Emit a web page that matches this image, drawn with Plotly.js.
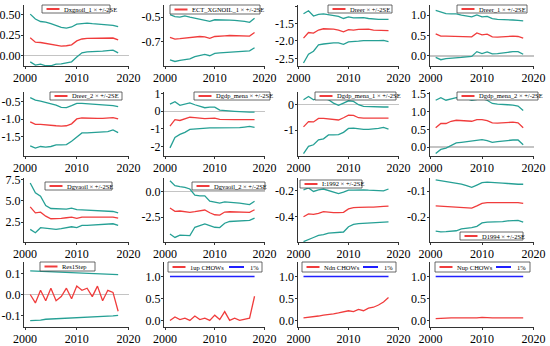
<!DOCTYPE html>
<html><head><meta charset="utf-8">
<script src="https://cdn.plot.ly/plotly-3.0.1.min.js"></script>
<style>html,body{margin:0;padding:0;background:#fff;} #chart{width:550px;height:346px;}</style>
</head><body><div id="chart"></div>
<script>
// ---------------- DATA ----------------
const years = [2001,2002,2003,2004,2005,2006,2007,2008,2009,2010,2011,2012,2013,2014,2015,2016,2017,2018];

const dxgnoilHi  = [0.508,0.448,0.417,0.41,0.39,0.37,0.345,0.337,0.35,0.385,0.39,0.397,0.39,0.385,0.377,0.377,0.37,0.353];
const dxgnoilFit = [0.218,0.163,0.159,0.147,0.131,0.119,0.115,0.119,0.131,0.179,0.202,0.21,0.21,0.21,0.206,0.21,0.214,0.19];
const dxgnoilLo  = [-0.079,-0.119,-0.107,-0.127,-0.127,-0.107,-0.103,-0.091,-0.079,-0.02,0.032,0.044,0.044,0.048,0.052,0.06,0.064,0.032];

const ectHi  = [-0.479,-0.495,-0.5,-0.489,-0.5,-0.508,-0.516,-0.521,-0.534,-0.521,-0.524,-0.526,-0.524,-0.526,-0.529,-0.534,-0.542,-0.508];
const ectFit = [-0.666,-0.679,-0.676,-0.671,-0.666,-0.661,-0.658,-0.661,-0.674,-0.658,-0.658,-0.653,-0.65,-0.65,-0.65,-0.653,-0.655,-0.626];
const ectLo  = [-0.85,-0.863,-0.853,-0.845,-0.842,-0.824,-0.816,-0.805,-0.816,-0.797,-0.792,-0.789,-0.784,-0.782,-0.779,-0.779,-0.776,-0.75];

const dreerHi  = [-1.223,-1.134,-1.286,-1.241,-1.223,-1.241,-1.268,-1.295,-1.357,-1.313,-1.339,-1.33,-1.33,-1.357,-1.375,-1.384,-1.384,-1.384];
const dreerFit = [-1.92,-1.759,-1.777,-1.688,-1.652,-1.652,-1.661,-1.688,-1.741,-1.679,-1.688,-1.67,-1.661,-1.661,-1.688,-1.688,-1.688,-1.705];
const dreerLo  = [-2.634,-2.384,-2.295,-2.116,-2.089,-2.063,-2.054,-2.054,-2.098,-2.027,-2.027,-2.009,-1.991,-1.982,-1.991,-1.991,-1.982,-2.018];

const dreer1Hi  = [1.119,1.071,1.04,1.032,1.032,1.0,0.976,0.96,1.008,0.96,0.968,0.913,0.897,0.897,0.889,0.881,0.873,0.857];
const dreer1Fit = [0.54,0.484,0.484,0.484,0.484,0.476,0.476,0.468,0.563,0.516,0.532,0.468,0.46,0.468,0.484,0.484,0.476,0.437];
const dreer1Lo  = [-0.04,-0.095,-0.071,-0.063,-0.063,-0.04,-0.024,-0.016,0.103,0.056,0.095,0.048,0.056,0.063,0.087,0.103,0.103,0.04];

const dreer2Hi  = [-0.38,-0.454,-0.481,-0.519,-0.546,-0.593,-0.657,-0.667,-0.611,-0.546,-0.546,-0.556,-0.574,-0.583,-0.593,-0.593,-0.611,-0.639];
const dreer2Fit = [-1.074,-1.148,-1.148,-1.167,-1.167,-1.185,-1.194,-1.185,-1.13,-0.991,-0.963,-0.972,-0.972,-0.972,-0.972,-0.963,-0.954,-0.991];
const dreer2Lo  = [-1.759,-1.824,-1.778,-1.796,-1.778,-1.731,-1.731,-1.722,-1.63,-1.5,-1.389,-1.389,-1.38,-1.38,-1.37,-1.352,-1.306,-1.38];

const menaHi  = [0.407,0.542,0.339,0.407,0.475,0.373,0.288,0.203,0.237,0.237,0.068,0.034,0,0,-0.017,-0.051,-0.051,-0.051];
const menaFit = [-0.847,-0.475,-0.525,-0.441,-0.339,-0.356,-0.39,-0.424,-0.407,-0.39,-0.458,-0.475,-0.475,-0.475,-0.475,-0.475,-0.475,-0.475];
const menaLo  = [-2.085,-1.49,-1.32,-1.2,-1.03,-1.0,-0.983,-0.966,-0.949,-0.949,-0.949,-0.949,-0.949,-0.932,-0.932,-0.898,-0.864,-0.915];

const mena1Hi  = [0.192,0.32,0.192,0.256,0.282,0.192,0.064,-0.026,0.064,0.154,0.128,0,-0.064,-0.077,-0.077,-0.077,-0.09,-0.09];
const mena1Fit = [-0.872,-0.667,-0.679,-0.538,-0.538,-0.551,-0.577,-0.603,-0.513,-0.41,-0.423,-0.513,-0.526,-0.526,-0.513,-0.513,-0.5,-0.526];
const mena1Lo  = [-1.923,-1.641,-1.577,-1.385,-1.346,-1.192,-1.192,-1.179,-1.09,-0.936,-0.923,-0.962,-0.974,-0.974,-0.962,-0.936,-0.897,-0.962];

const mena2Hi  = [1.318,1.391,1.318,1.364,1.391,1.382,1.364,1.318,1.336,1.364,1.318,1.227,1.209,1.209,1.191,1.182,1.155,1.027];
const mena2Fit = [0.545,0.664,0.664,0.727,0.755,0.745,0.736,0.727,0.773,0.773,0.745,0.682,0.673,0.682,0.7,0.7,0.682,0.545];
const mena2Lo  = [-0.182,-0.064,-0.027,0.045,0.118,0.136,0.155,0.173,0.209,0.209,0.182,0.136,0.155,0.173,0.182,0.2,0.2,0.064];

const gvaHi  = [7.11,5.94,5.55,4.45,4.1,4.06,3.98,4.02,4.14,3.98,3.95,3.91,3.83,3.79,3.79,3.79,3.75,3.59];
const gvaFit = [4.3,3.59,3.67,3.2,2.89,2.89,2.93,3.01,3.09,2.93,3.09,3.09,3.09,3.09,3.13,3.13,3.09,2.97];
const gvaLo  = [1.64,1.25,1.84,1.76,1.64,1.64,1.72,1.8,1.95,1.84,2.11,2.11,2.15,2.19,2.23,2.27,2.3,2.11];

const gva2Hi  = [1.07,0.6,0.5,0.43,0.27,-0.33,-0.4,-0.4,-0.93,-1.0,-1.13,-1.0,-1.03,-1.07,-1.13,-1.2,-1.27,-0.93];
const gva2Fit = [-1.6,-1.93,-1.9,-1.93,-2.03,-1.97,-1.87,-1.8,-2.07,-2.27,-2.3,-2.0,-1.97,-1.97,-2.0,-2.03,-2.03,-1.77];
const gva2Lo  = [-4.17,-4.5,-4.27,-4.27,-4.33,-3.5,-3.33,-3.17,-3.33,-3.5,-3.53,-3.1,-2.93,-2.9,-2.9,-2.9,-2.83,-2.6];

const i1992Hi  = [-0.192,-0.178,-0.205,-0.192,-0.186,-0.197,-0.214,-0.222,-0.211,-0.195,-0.195,-0.192,-0.192,-0.195,-0.197,-0.2,-0.2,-0.186];
const i1992Fit = [-0.403,-0.381,-0.384,-0.376,-0.362,-0.368,-0.37,-0.37,-0.368,-0.341,-0.332,-0.33,-0.327,-0.327,-0.327,-0.327,-0.322,-0.319];
const i1992Lo  = [-0.597,-0.578,-0.565,-0.549,-0.543,-0.53,-0.527,-0.524,-0.522,-0.481,-0.462,-0.457,-0.454,-0.451,-0.451,-0.449,-0.446,-0.443];

const d1994Hi  = [-0.057,-0.06,-0.064,-0.068,-0.069,-0.073,-0.079,-0.086,-0.077,-0.068,-0.066,-0.068,-0.069,-0.07,-0.071,-0.073,-0.074,-0.074];
const d1994Fit = [-0.157,-0.158,-0.16,-0.161,-0.162,-0.164,-0.165,-0.165,-0.157,-0.147,-0.144,-0.144,-0.144,-0.144,-0.144,-0.144,-0.144,-0.147];
const d1994Lo  = [-0.253,-0.256,-0.255,-0.253,-0.252,-0.245,-0.243,-0.24,-0.235,-0.222,-0.219,-0.219,-0.218,-0.217,-0.214,-0.213,-0.212,-0.219];

const resHi  = [0.113,0.112,0.111,0.108,0.107,0.106,0.105,0.104,0.104,0.102,0.101,0.1,0.1,0.099,0.098,0.097,0.097,0.095];
const resFit = [0.0,-0.04,0.02,-0.03,0.03,-0.03,-0.01,0.03,-0.02,0.04,0.02,0.03,-0.01,0.04,-0.03,0.02,0.01,-0.08];
const resLo  = [-0.125,-0.124,-0.122,-0.118,-0.117,-0.116,-0.114,-0.113,-0.112,-0.11,-0.109,-0.108,-0.107,-0.106,-0.104,-0.103,-0.102,-0.1];

const chow1up = [0.0,0.08,0.02,0.05,0.0,0.1,0.02,0.05,0.0,0.12,0.02,0.2,0.0,0.05,0.0,0.02,0.05,0.55];
const chowNdn = [0.06,0.07,0.08,0.1,0.12,0.13,0.15,0.17,0.2,0.22,0.2,0.25,0.22,0.28,0.3,0.35,0.42,0.52];
const chowNup = [0.04,0.05,0.05,0.06,0.06,0.06,0.05,0.06,0.06,0.07,0.06,0.06,0.06,0.06,0.07,0.07,0.06,0.06];
const crit1pc = [1,1,1,1,1,1,1,1,1,1,1,1,1,1,1,1,1,1];

const xTicks = [2000, 2010, 2020];

// ---------------- STYLE / LAYOUT ----------------
const RED = '#f03c3c', TEAL = '#26a095', BLUE = '#2020ff';
const W = 550, H = 346;
const FONT = 'Liberation Serif, Times New Roman, serif';
const colPx = [[24,128.5],[164,264.5],[297.5,398.5],[429.5,533.5]];
const rowPx = [[5,66],[92,156],[178,242],[262,327]];
const px2x = p => p / W, py2y = p => 1 - p / H;

const panels = [
  {kind:'band', label:'Dxgnoil_1 × +/-2SE',   fit:dxgnoilFit, hi:dxgnoilHi, lo:dxgnoilLo, yr:[-0.13,0.62],  tv:[0,0.25,0.5],   dec:2, box:[42,5,110,13],   zero:true},
  {kind:'band', label:'ECT_XGNOIL_1 × +/-2SE', fit:ectFit,    hi:ectHi,    lo:ectLo,    yr:[-0.9,-0.4],   tv:[-0.7,-0.5],    dec:1, box:[170,5,260,14],  zero:true},
  {kind:'band', label:'Dreer × +/-2SE',       fit:dreerFit,   hi:dreerHi,  lo:dreerLo,  yr:[-2.72,-0.97], tv:[-2.5,-2,-1.5,-1], dec:1, box:[328,5,392,13], zero:true},
  {kind:'band', label:'Dreer_1 × +/-2SE',     fit:dreer1Fit,  hi:dreer1Hi, lo:dreer1Lo, yr:[-0.25,1.25],  tv:[0,0.5,1],      dec:1, box:[457,5,527,13],  zero:true},
  {kind:'band', label:'Dreer_2 × +/-2SE',     fit:dreer2Fit,  hi:dreer2Hi, lo:dreer2Lo, yr:[-2.05,-0.22], tv:[-1.5,-1,-0.5], dec:1, box:[50,92,122,100], zero:true},
  {kind:'band', label:'Dgdp_mena × +/-2SE',   fit:menaFit,    hi:menaHi,   lo:menaLo,   yr:[-2.55,1.1],   tv:[-2,-1,0,1],    dec:0, box:[194,92,270,100], zero:true},
  {kind:'band', label:'Dgdp_mena_1 × +/-2SE', fit:mena1Fit,   hi:mena1Hi,  lo:mena1Lo,  yr:[-2.02,0.5],   tv:[-1,0],         dec:0, box:[315,92,396,100], zero:true},
  {kind:'band', label:'Dgdp_mena_2 × +/-2SE', fit:mena2Fit,   hi:mena2Hi,  lo:mena2Lo,  yr:[-0.25,1.55],  tv:[0,0.5,1,1.5],  dec:1, box:[457,92,538,100], zero:true},
  {kind:'band', label:'Dgvaoil × +/-2SE',     fit:gvaFit,     hi:gvaHi,    lo:gvaLo,    yr:[0.15,7.7],    tv:[2.5,5,7.5],    dec:1, box:[45,182,112,190], zero:true},
  {kind:'band', label:'Dgvaoil_2 × +/-2SE',   fit:gva2Fit,    hi:gva2Hi,   lo:gva2Lo,   yr:[-4.95,1.35],  tv:[-2.5,0],       dec:1, box:[192,182,265,190], zero:true},
  {kind:'band', label:'I:1992 × +/-2SE',      fit:i1992Fit,   hi:i1992Hi,  lo:i1992Lo,  yr:[-0.6,-0.1],   tv:[-0.4,-0.2],    dec:1, box:[300,180,362,188], zero:true},
  {kind:'band', label:'D1994 × +/-2SE',       fit:d1994Fit,   hi:d1994Hi,  lo:d1994Lo,  yr:[-0.295,-0.05], tv:[-0.2,-0.1],   dec:1, box:[460,232,523,240], zero:true},
  {kind:'band', label:'Res1Step',             fit:resFit,     hi:resHi,    lo:resLo,    yr:[-0.155,0.155], tv:[-0.1,0,0.1],  dec:1, box:[40,262,95,271],  zero:true},
  {kind:'chow', label:'1up CHOWs', fit:chow1up, crit:crit1pc, yr:[-0.15,1.33], tv:[0,0.5,1], dec:1, box:[168,262,262,272], zero:false},
  {kind:'chow', label:'Ndn CHOWs', fit:chowNdn, crit:crit1pc, yr:[-0.15,1.33], tv:[0,0.5,1], dec:1, box:[302,262,396,272], zero:false},
  {kind:'chow', label:'Nup CHOWs', fit:chowNup, crit:crit1pc, yr:[-0.15,1.33], tv:[0,0.5,1], dec:1, box:[435,262,530,272], zero:false}
];

const traces = [];
const layout = {
  width: W, height: H,
  margin: {l:0, r:0, t:0, b:0},
  paper_bgcolor: '#fff', plot_bgcolor: '#fff',
  showlegend: false,
  font: {family: FONT, color: '#000'},
  shapes: [], annotations: []
};

panels.forEach((p, i) => {
  const s = i === 0 ? '' : String(i + 1);
  const xa = 'x' + s, ya = 'y' + s;
  const c = colPx[i % 4], r = rowPx[Math.floor(i / 4)];
  const lineW = 1.3;
  if (p.kind === 'band') {
    traces.push({x: years, y: p.hi, xaxis: xa, yaxis: ya, type: 'scatter', mode: 'lines', line: {color: TEAL, width: lineW}});
    traces.push({x: years, y: p.lo, xaxis: xa, yaxis: ya, type: 'scatter', mode: 'lines', line: {color: TEAL, width: lineW}});
    traces.push({x: years, y: p.fit, xaxis: xa, yaxis: ya, type: 'scatter', mode: 'lines', line: {color: RED, width: lineW}});
  } else {
    traces.push({x: years, y: p.crit, xaxis: xa, yaxis: ya, type: 'scatter', mode: 'lines', line: {color: BLUE, width: lineW}});
    traces.push({x: years, y: p.fit, xaxis: xa, yaxis: ya, type: 'scatter', mode: 'lines', line: {color: RED, width: lineW}});
  }
  const axCommon = {
    showline: true, linecolor: '#333', linewidth: 1, mirror: false,
    ticks: 'outside', ticklen: 2, tickcolor: '#333', tickwidth: 1,
    showgrid: false, fixedrange: true,
    tickfont: {family: FONT, size: 12, color: '#000'}
  };
  layout['xaxis' + s] = Object.assign({}, axCommon, {
    domain: [px2x(c[0]), px2x(c[1])], range: [1999.8, 2020],
    tickvals: xTicks, ticktext: xTicks.map(String), zeroline: false, anchor: ya,
    ticklabelstandoff: -1
  });
  layout['yaxis' + s] = Object.assign({}, axCommon, {
    domain: [py2y(r[1]), py2y(r[0])], range: p.yr,
    tickvals: p.tv, ticktext: p.tv.map(v => v.toFixed(p.dec)),
    ticklabelstandoff: -2,
    zeroline: p.zero, zerolinecolor: '#c4c4c4', zerolinewidth: 1.5, anchor: xa
  });

  // legend box
  const [bx0, by0, bx1, by1] = p.box;
  const ym = (by0 + by1) / 2;
  layout.shapes.push({type: 'rect', xref: 'paper', yref: 'paper', layer: 'above',
    x0: px2x(bx0), x1: px2x(bx1), y0: py2y(by1), y1: py2y(by0),
    fillcolor: '#fff', line: {color: '#444', width: 0.8}});
  layout.shapes.push({type: 'line', xref: 'paper', yref: 'paper', layer: 'above',
    x0: px2x(bx0 + 4.5), x1: px2x(bx0 + 17.5), y0: py2y(ym), y1: py2y(ym),
    line: {color: RED, width: 2}});
  layout.annotations.push({xref: 'paper', yref: 'paper', x: px2x(bx0 + 20), y: py2y(ym),
    xanchor: 'left', yanchor: 'middle', showarrow: false, text: p.label,
    font: {family: FONT, size: 6.5, color: '#000'}});
  if (p.kind === 'chow') {
    layout.shapes.push({type: 'line', xref: 'paper', yref: 'paper', layer: 'above',
      x0: px2x(bx0 + 61), x1: px2x(bx0 + 76), y0: py2y(ym), y1: py2y(ym),
      line: {color: BLUE, width: 2}});
    layout.annotations.push({xref: 'paper', yref: 'paper', x: px2x(bx0 + 80), y: py2y(ym),
      xanchor: 'left', yanchor: 'middle', showarrow: false, text: '1%',
      font: {family: FONT, size: 6.5, color: '#000'}});
  }
});

Plotly.newPlot('chart', traces, layout, {staticPlot: true, displayModeBar: false});
</script>
</body></html>
